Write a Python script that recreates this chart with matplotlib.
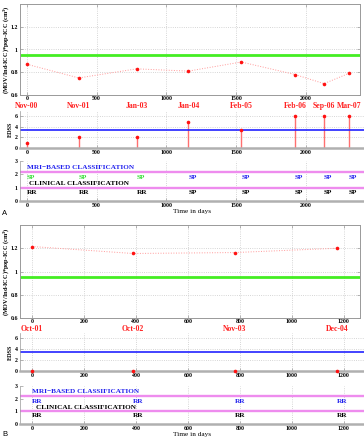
import matplotlib
matplotlib.use("Agg")
import matplotlib.pyplot as plt
import matplotlib.transforms as mtransforms

plt.rcParams['font.family'] = ['Liberation Serif', 'DejaVu Serif']
plt.rcParams['font.weight'] = 'bold'
plt.rcParams['mathtext.default'] = 'regular'

# ---------------- data: panel A ----------------
a_days = [0, 371, 786, 1157, 1536, 1921, 2129, 2307]
a_dates = ["Nov-00", "Nov-01", "Jan-03", "Jan-04", "Feb-05", "Feb-06", "Sep-06", "Mar-07"]
a_ratio = [0.87, 0.75, 0.83, 0.81, 0.89, 0.78, 0.70, 0.79]
a_edss = [1, 2, 2, 5, 3.5, 6, 6, 6]
a_mri_class = ["SP", "SP", "SP", "SP", "SP", "SP", "SP", "SP"]
a_mri_colors = ["#33dd33", "#33dd33", "#33dd33", "#2222ee", "#2222ee", "#2222ee", "#2222ee", "#2222ee"]
a_clin_class = ["RR", "RR", "RR", "SP", "SP", "SP", "SP", "SP"]

# ---------------- data: panel B ----------------
b_days = [0, 388, 781, 1173]
b_dates = ["Oct-01", "Oct-02", "Nov-03", "Dec-04"]
b_ratio = [1.215, 1.155, 1.163, 1.20]
b_edss = [0, 0, 0, 0]
b_mri_class = ["RR", "RR", "RR", "RR"]
b_mri_colors = ["#2222ee"] * 4
b_clin_class = ["RR", "RR", "RR", "RR"]

ratio_threshold = 0.95
edss_threshold = 3.5

W, H = 364, 440
fig = plt.figure(figsize=(W / 100, H / 100), dpi=100)


def fr(x0, y_top, x1, y_bot):
    return [x0 / W, 1 - y_bot / H, (x1 - x0) / W, (y_bot - y_top) / H]


GRAY = "#999999"
GRID = dict(color="#c8c8c8", linestyle=":", linewidth=0.6)
TFS = 4.2
LFS = 5.2


def style_ticks(ax):
    ax.tick_params(direction="in", length=2, width=0.5, color=GRAY,
                   labelsize=TFS, pad=1.5)


def draw_panel(days, dates, ratio, edss, mri_cls, mri_cols, clin_cls,
               y_top, y_edss, y_cls, xlim_lo, xlim_hi_top, xlim_hi, xticks,
               date_y, letter, letter_y, xlabel_pad):
    # --- top ratio plot ---
    ax = fig.add_axes(fr(20, y_top[0], 360, y_top[1]))
    ax.plot(days, ratio, linestyle=":", color="#ff9999", linewidth=0.7, zorder=2)
    ax.plot(days, ratio, linestyle="none", marker="o", color="#ff1111",
            markersize=2.6, markeredgewidth=0, zorder=3)
    ax.axhline(ratio_threshold, color="#44ee22", linewidth=2.0, zorder=2)
    ax.set_xlim(xlim_lo, xlim_hi_top)
    ax.set_ylim(0.6, 1.4)
    ax.set_xticks(xticks)
    ax.set_yticks([0.6, 0.8, 1.0, 1.2])
    ax.set_yticklabels(["0.6", "0.8", "1", "1.2"])
    ax.grid(True, **GRID)
    style_ticks(ax)
    ax.tick_params(top=True, right=True)
    ax.tick_params(axis="x", pad=1.0)
    for s in ax.spines.values():
        s.set_color(GRAY)
        s.set_linewidth(0.7)
    tr = mtransforms.blended_transform_factory(ax.transData, fig.transFigure)
    for d, lab in zip(days, dates):
        ax.text(d, 1 - date_y / H, lab, transform=tr, ha="center", va="center",
                color="#ff2222", fontsize=5.6, clip_on=False)
    fig.text(6 / W, 1 - (y_top[0] + y_top[1]) / 2 / H,
             "(MOV/Ind-ICC)*pop-ICC (cm$^3$)", rotation=90,
             ha="center", va="center", fontsize=4.5)

    # --- EDSS plot ---
    ax2 = fig.add_axes(fr(20, y_edss[0], 364, y_edss[1]))
    ax2.vlines(days, 0, edss, color="#ff7070", linewidth=1.0, zorder=2)
    ax2.plot(days, edss, linestyle="none", marker="o", color="#ff1111",
             markersize=2.6, markeredgewidth=0, zorder=3, clip_on=False)
    ax2.axhline(edss_threshold, color="#2222ff", linewidth=1.2, zorder=2)
    ax2.set_xlim(xlim_lo, xlim_hi)
    ax2.set_ylim(0, 7)
    ax2.set_xticks(xticks)
    ax2.set_yticks([0, 2, 4, 6])
    ax2.grid(True, **GRID)
    style_ticks(ax2)
    ax2.spines["top"].set_visible(False)
    ax2.spines["right"].set_visible(False)
    ax2.spines["left"].set_color(GRAY)
    ax2.spines["left"].set_linewidth(0.5)
    ax2.spines["bottom"].set_color("#b0b0b0")
    ax2.spines["bottom"].set_linewidth(1.8)
    fig.text(10 / W, 1 - (y_edss[0] + y_edss[1]) / 2 / H, "EDSS", rotation=90,
             ha="center", va="center", fontsize=4.5)

    # --- classification plot ---
    ax3 = fig.add_axes(fr(20, y_cls[0], 364, y_cls[1]))
    ax3.axhline(2.2, color="#ee8cee", linewidth=1.7, zorder=2)
    ax3.axhline(1.0, color="#ee8cee", linewidth=1.7, zorder=2)
    ax3.set_xlim(xlim_lo, xlim_hi)
    ax3.set_ylim(0, 3)
    ax3.set_xticks(xticks)
    ax3.set_yticks([0, 1, 2, 3])
    ax3.grid(True, axis="x", **GRID)
    style_ticks(ax3)
    ax3.spines["top"].set_visible(False)
    ax3.spines["right"].set_visible(False)
    ax3.spines["left"].set_color(GRAY)
    ax3.spines["left"].set_linewidth(0.5)
    ax3.spines["bottom"].set_color("#b0b0b0")
    ax3.spines["bottom"].set_linewidth(1.8)
    ax3.text(0, 2.53, "MRI\u2212BASED CLASSIFICATION", color="#2222ee",
             fontsize=LFS, ha="left", va="center")
    ax3.text(15, 1.3, "CLINICAL CLASSIFICATION", color="black",
             fontsize=LFS, ha="left", va="center")
    for d, lab, c in zip(days, mri_cls, mri_cols):
        ax3.text(d, 1.78, lab, color=c, fontsize=LFS, ha="left", va="center")
    for d, lab in zip(days, clin_cls):
        ax3.text(d, 0.65, lab, color="black", fontsize=LFS, ha="left", va="center")
    ax3.set_xlabel("Time in days", fontsize=LFS, labelpad=xlabel_pad)
    fig.text(5 / W, 1 - letter_y / H, letter, fontsize=5.5, ha="center",
             va="center", family="Liberation Sans", weight="normal")


draw_panel(a_days, a_dates, a_ratio, a_edss, a_mri_class, a_mri_colors, a_clin_class,
           (4, 95), (111, 148), (161, 201), -50, 2387, 2416,
           [0, 500, 1000, 1500, 2000], 105.5, "A", 213, 1.0)
draw_panel(b_days, b_dates, b_ratio, b_edss, b_mri_class, b_mri_colors, b_clin_class,
           (225, 318), (333, 371), (386, 424), -46, 1262, 1277,
           [0, 200, 400, 600, 800, 1000, 1200], 328.5, "B", 434, 1.0)

fig.savefig("out.png", dpi=100)
